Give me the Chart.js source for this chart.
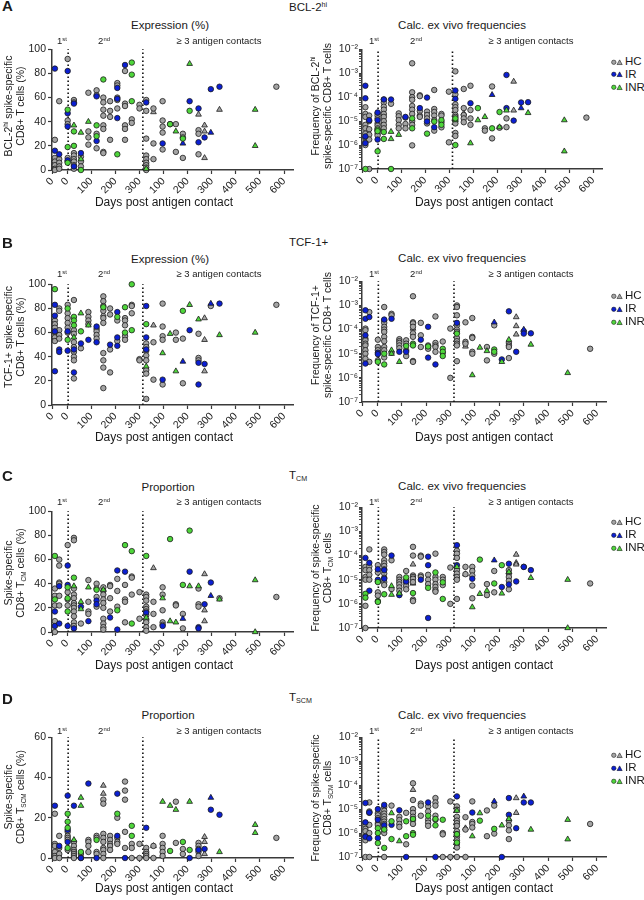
<!DOCTYPE html>
<html><head><meta charset="utf-8"><title>Spike-specific CD8+ T cells</title>
<script src="https://cdn.jsdelivr.net/npm/chart.js@4.4.1/dist/chart.umd.min.js"></script>
<style>
html,body{margin:0;padding:0;background:#fff}
body{width:644px;height:900px;position:relative;overflow:hidden;font-family:"Liberation Sans",Arial,Helvetica,sans-serif;color:#1a1a1a}
#charts{position:absolute;left:0;top:0;width:644px;height:900px}
#charts canvas{position:absolute;left:0;top:0}
.t{position:absolute;white-space:nowrap;line-height:1}
.c{transform:translate(-50%,-50%);text-align:center}
.l{transform:translateY(-50%)}
.r{transform:translate(-50%,-50%) rotate(-90deg);text-align:center;line-height:12px;font-size:10.5px}
.letter{font-weight:bold;font-size:15px}
.hdr{font-size:11.5px}
.sub{font-size:11.5px}
.seg{font-size:9.5px}
.xt{font-size:12px}
sup,sub{font-size:0.62em;line-height:0;position:relative;vertical-align:baseline}
sup{top:-0.55em}
sub{top:0.3em}
.leg{font-size:11.5px;display:flex;align-items:center;transform:translateY(-50%)}
.leg svg{margin-right:2px}
</style></head><body>
<div id="charts"></div>

<div class="t letter" style="left:2px;top:-2px">A</div>
<div class="t letter" style="left:2px;top:235px">B</div>
<div class="t letter" style="left:2px;top:468px">C</div>
<div class="t letter" style="left:2px;top:691px">D</div>

<div class="t hdr l" style="left:289px;top:8px">BCL-2<sup>hi</sup></div>
<div class="t hdr l" style="left:289px;top:243px">TCF-1+</div>
<div class="t hdr l" style="left:289px;top:476px">T<sub>CM</sub></div>
<div class="t hdr l" style="left:289px;top:698px">T<sub>SCM</sub></div>

<div class="t sub c" style="left:170px;top:25.5px">Expression (%)</div>
<div class="t sub c" style="left:462px;top:25.5px">Calc. ex vivo frequencies</div>
<div class="t sub c" style="left:170px;top:259.5px">Expression (%)</div>
<div class="t sub c" style="left:462px;top:259px">Calc. ex vivo frequencies</div>
<div class="t sub c" style="left:168px;top:487.5px">Proportion</div>
<div class="t sub c" style="left:462px;top:487px">Calc. ex vivo frequencies</div>
<div class="t sub c" style="left:168px;top:715.5px">Proportion</div>
<div class="t sub c" style="left:462px;top:716px">Calc. ex vivo frequencies</div>

<div class="t seg c" style="left:62px;top:41px">1<sup>st</sup></div>
<div class="t seg c" style="left:104px;top:41px">2<sup>nd</sup></div>
<div class="t seg c" style="left:219px;top:41px">≥ 3 antigen contacts</div>
<div class="t seg c" style="left:374px;top:41px">1<sup>st</sup></div>
<div class="t seg c" style="left:416px;top:41px">2<sup>nd</sup></div>
<div class="t seg c" style="left:531px;top:41px">≥ 3 antigen contacts</div>

<div class="t seg c" style="left:62px;top:274px">1<sup>st</sup></div>
<div class="t seg c" style="left:104px;top:274px">2<sup>nd</sup></div>
<div class="t seg c" style="left:219px;top:274px">≥ 3 antigen contacts</div>
<div class="t seg c" style="left:374px;top:274px">1<sup>st</sup></div>
<div class="t seg c" style="left:416px;top:274px">2<sup>nd</sup></div>
<div class="t seg c" style="left:531px;top:274px">≥ 3 antigen contacts</div>

<div class="t seg c" style="left:62px;top:502px">1<sup>st</sup></div>
<div class="t seg c" style="left:104px;top:502px">2<sup>nd</sup></div>
<div class="t seg c" style="left:219px;top:502px">≥ 3 antigen contacts</div>
<div class="t seg c" style="left:374px;top:502px">1<sup>st</sup></div>
<div class="t seg c" style="left:416px;top:502px">2<sup>nd</sup></div>
<div class="t seg c" style="left:531px;top:502px">≥ 3 antigen contacts</div>

<div class="t seg c" style="left:62px;top:731px">1<sup>st</sup></div>
<div class="t seg c" style="left:104px;top:731px">2<sup>nd</sup></div>
<div class="t seg c" style="left:219px;top:731px">≥ 3 antigen contacts</div>
<div class="t seg c" style="left:374px;top:731px">1<sup>st</sup></div>
<div class="t seg c" style="left:416px;top:731px">2<sup>nd</sup></div>
<div class="t seg c" style="left:531px;top:731px">≥ 3 antigen contacts</div>

<div class="t r" style="left:13.5px;top:106px">BCL-2<sup>hi</sup> spike-specific<br>CD8+ T cells (%)</div>
<div class="t r" style="left:321px;top:106px">Frequency of BCL-2<sup>hi</sup><br>spike-specific CD8+ T cells</div>
<div class="t r" style="left:13.5px;top:337px">TCF-1+ spike-specific<br>CD8+ T cells (%)</div>
<div class="t r" style="left:321px;top:335px">Frequency of TCF-1+<br>spike-specific CD8+ T cells</div>
<div class="t r" style="left:13.5px;top:573px">Spike-specific<br>CD8+ T<sub>CM</sub> cells (%)</div>
<div class="t r" style="left:321px;top:568px">Frequency of spike-specific<br>CD8+ T<sub>CM</sub> cells</div>
<div class="t r" style="left:13.5px;top:797px">Spike-specific<br>CD8+ T<sub>SCM</sub> cells (%)</div>
<div class="t r" style="left:321px;top:798px">Frequency of spike-specific<br>CD8+ T<sub>SCM</sub> cells</div>

<div class="t xt c" style="left:164px;top:202px">Days post antigen contact</div>
<div class="t xt c" style="left:484px;top:202px">Days post antigen contact</div>
<div class="t xt c" style="left:164px;top:437px">Days post antigen contact</div>
<div class="t xt c" style="left:484px;top:437px">Days post antigen contact</div>
<div class="t xt c" style="left:164px;top:665px">Days post antigen contact</div>
<div class="t xt c" style="left:484px;top:665px">Days post antigen contact</div>
<div class="t xt c" style="left:164px;top:888px">Days post antigen contact</div>
<div class="t xt c" style="left:484px;top:888px">Days post antigen contact</div>

<div id="legends"></div>

<script>
// ---------- axis definitions ----------
const SEG_START = {1: 0, 2: 63, 3: 363};          // start of each contact segment on the shared day axis
const X_MIN = 0, X_MAX = 1000;
const xTickSegDay = [[1,0],[2,0],[2,100],[2,200],[2,300],[3,100],[3,200],[3,300],[3,400],[3,500],[3,600]];
const xTickLabels = ['0','0','100','200','300','100','200','300','400','500','600'];
const contactDividers = [[2,4],[3,14]];
const pctTicks100 = [0,20,40,60,80,100];
const pctTicks60 = [0,20,40,60];
const logExponents = [-7,-6,-5,-4,-3,-2];
const groupNames = ['HC','IR','INR'];
const groupColors = ['#a4a4a4','#0b1fd3','#4ed63b'];

// ---------- data: [segment, day, [values]] ----------
// A: BCL-2hi expression (%)
const bcl2Expr_HC = [[1,12,[25,10,7,4,1,0]],[1,30,[57,9,6,3,1]],[2,2,[92,41,38,10,7]],[2,28,[58,56,14,12,9,7,4,1]],[2,57,[11,7,3]],[2,88,[64,32,27,21]],[2,122,[66,62,30,18]],[2,150,[60,56,50,45,37,34,15,14]],[2,178,[57,49,44,25]],[2,208,[72,70,60,58,51]],[2,240,[82,55,53,37,34,25]],[2,268,[42,39]],[2,300,[54,51]],[3,28,[58,49,26,12,9,6,4,2,0]],[3,58,[51,22,9]],[3,96,[57,41,36,31,17]],[3,127,[38]],[3,151,[38,15]],[3,180,[30,27,10]],[3,245,[33,30,13]],[3,568,[69]]];
const bcl2Expr_HC_tri = [[3,58,[48]],[3,245,[46]],[3,270,[37,32,10]],[3,332,[50]]];
const bcl2Expr_IR = [[1,12,[84,16]],[1,30,[13]],[2,2,[82,47,36,8]],[2,28,[55,3]],[2,57,[14]],[2,122,[61,24]],[2,208,[68,59,43]],[2,240,[87]],[3,28,[56]],[3,96,[22]],[3,208,[57]],[3,245,[51,23]],[3,270,[27]],[3,296,[67]],[3,332,[69]]];
const bcl2Expr_IR_tri = [[3,180,[22]],[3,296,[31]]];
const bcl2Expr_INR = [[2,2,[50,19,6]],[2,28,[32,20]],[2,57,[0]],[2,122,[37,28]],[2,150,[75]],[2,208,[13]],[2,268,[89,79,57]],[3,127,[38]],[3,180,[26]],[3,208,[49]]];
const bcl2Expr_INR_tri = [[2,28,[37]],[2,57,[31,9]],[2,88,[40]],[3,28,[1]],[3,151,[32]],[3,208,[88]],[3,480,[50,20]]];

// A: BCL-2hi calc. ex vivo frequencies
const bcl2Freq_HC = [[1,14,[3.8e-5,2e-5,1.5e-5,7e-6,5e-6,3e-6,2e-6,1.3e-6,1e-6]],[1,30,[1.7e-5,1e-5,4.6e-6,2.7e-6,1.7e-6,1e-7]],[2,2,[2.1e-5,1.7e-5,1.3e-5,8e-6,6.5e-6,5e-6,3e-6,2.5e-6]],[2,28,[8e-5,6e-5,4e-5,3e-5,2e-5,1.5e-5,1e-5,7e-6,5e-6]],[2,58,[5.3e-5]],[2,90,[2.1e-5,1.6e-5,1.1e-5,7e-6,5e-6]],[2,118,[1.4e-5,7.6e-6,5e-6]],[2,146,[2.6e-3,1.6e-4,1e-4,7.8e-5,4.3e-5,3e-5,2e-5,1e-5,7e-6,9.7e-7]],[2,178,[1.2e-4,1.1e-4,2.6e-5,1.7e-5,1.5e-5]],[2,208,[2.5e-5,1.8e-5,1.3e-5,8e-6]],[2,238,[2e-4,3.2e-5,2.4e-5,1.7e-5,1.1e-5,4e-6]],[2,268,[2e-5,1.7e-5,9e-6,5.5e-6]],[2,299,[1.7e-4,1.3e-6]],[3,26,[1.2e-3,1.3e-4,5e-5,3.8e-5,2.9e-5,1.8e-5,1.5e-5,1.1e-5,8e-6,3.2e-6,2.4e-6]],[3,61,[2.2e-4,3.5e-5,1.8e-5,1.3e-5,9e-6]],[3,89,[3e-4,2.9e-5,1.3e-5,7e-6]],[3,149,[5e-6,4e-6]],[3,179,[2.8e-4,1.9e-6]],[3,210,[5.3e-6]],[3,239,[1.3e-5,5.6e-6]],[3,572,[1.4e-5]]];
const bcl2Freq_HC_tri = [[3,61,[2.1e-5]],[3,269,[4.5e-4,2.8e-5]]];
const bcl2Freq_IR = [[1,14,[3e-4,9e-5,2.3e-6,1.2e-6]],[1,30,[1.1e-5]],[2,2,[2.3e-5,1.1e-5,4e-6,1.7e-6]],[2,28,[8e-5]],[2,58,[8e-5]],[2,118,[1.5e-5]],[2,178,[3.5e-5]],[2,208,[9.6e-5,9.6e-6]],[2,238,[5.6e-6]],[3,26,[1.9e-4,8.5e-5]],[3,89,[5.6e-5]],[3,239,[8.5e-4,3.5e-5]],[3,269,[1.05e-5]],[3,300,[6e-5]],[3,329,[6.2e-5]]];
const bcl2Freq_IR_tri = [[3,179,[1.25e-4]],[3,300,[3.5e-5]]];
const bcl2Freq_INR = [[1,14,[1e-7]],[2,2,[4.4e-6,3.8e-6,5.5e-7]],[2,28,[3.5e-6,1.8e-6]],[2,58,[1e-7]],[2,146,[1.3e-5,5e-6]],[2,208,[3e-6]],[2,238,[9.6e-6]],[2,268,[1.1e-5,7e-6]],[3,26,[1.3e-5,1e-6]],[3,120,[3.5e-5]],[3,179,[5e-6]],[3,210,[2.4e-5]]];
const bcl2Freq_INR_tri = [[2,58,[3.6e-6,1.8e-6]],[2,90,[2.7e-6]],[3,26,[1.1e-5]],[3,89,[1.2e-6]],[3,120,[1.1e-5]],[3,149,[1.5e-5]],[3,210,[5.6e-6]],[3,239,[2.8e-5]],[3,329,[2.2e-5]],[3,480,[1.1e-5,5.5e-7]]];

// B: TCF-1+ expression (%)
const tcf1Expr_HC = [[1,12,[70,67,64,60,56,53]],[1,30,[80,78,62,58,55]],[2,2,[83,76,72,68,64,60]],[2,28,[87,62,59,52,48,44,40,37,22]],[2,57,[47]],[2,88,[77,73,70,67]],[2,122,[63,61,58,55]],[2,150,[90,86,82,78,72,68,43,37,31,14]],[2,178,[80,75,46,27]],[2,208,[70,53]],[2,240,[72,70,66,57,54]],[2,268,[83,82,76]],[2,300,[38,37]],[3,28,[51,48,45,41,37,29,26,5]],[3,58,[52,21]],[3,96,[84,65,57,54,17]],[3,151,[60,54]],[3,180,[55,18]],[3,245,[59,39,37]],[3,296,[82]],[3,568,[83]]];
const tcf1Expr_HC_tri = [[2,150,[75]],[3,58,[66]],[3,270,[72,54,28]]];
const tcf1Expr_IR = [[1,12,[83,74,61,28]],[1,30,[46,44]],[2,2,[61,45]],[2,28,[46,27]],[2,57,[51]],[2,88,[54]],[2,122,[65,52]],[2,178,[50]],[2,208,[77,56,49]],[3,28,[82,56,46]],[3,96,[21]],[3,208,[62]],[3,245,[35,17]],[3,270,[34]],[3,332,[84]]];
const tcf1Expr_IR_tri = [[3,180,[36]],[3,296,[84]]];
const tcf1Expr_INR = [[1,12,[96]],[2,2,[80,54]],[2,28,[73,70,66]],[2,57,[61]],[2,150,[81]],[2,208,[73]],[2,240,[81,60]],[2,268,[100,62]],[3,28,[67]],[3,180,[78]]];
const tcf1Expr_INR_tri = [[2,28,[56]],[2,57,[76]],[2,88,[66]],[3,28,[32]],[3,96,[43]],[3,127,[59]],[3,151,[28]],[3,208,[83]],[3,245,[71]],[3,332,[58]],[3,480,[60]]];

// B: TCF-1+ calc. ex vivo frequencies
const tcf1Freq_HC = [[1,14,[1.1e-4,9.4e-5,4.2e-5,3.6e-5,2.6e-5,2.2e-5,1.4e-5,1e-5,6.2e-6]],[1,30,[5.3e-4,4.6e-6]],[2,2,[3.8e-5,1.9e-5,1.4e-5,5.3e-6]],[2,28,[8.6e-4,2.4e-4,1.9e-4,1.3e-4,1e-4,8e-5,5e-5,3.3e-5,1.9e-5,1.4e-5,7e-6]],[2,58,[4.5e-4,3.9e-4,1.1e-5]],[2,90,[4e-5,3.3e-5,2.8e-5,2.2e-5,1.7e-5]],[2,118,[3.6e-5,2.6e-5,1.4e-5,8e-6]],[2,146,[2.4e-3,2e-4,1.8e-4,1.3e-4,7e-5,5e-5,5e-6,4.6e-6]],[2,178,[1.9e-4,5.8e-5,1.9e-5]],[2,208,[2.2e-5,1.9e-5,1.6e-5]],[2,238,[3.5e-4,2.8e-5,2.2e-5,1.9e-5,1.2e-5]],[2,268,[3.2e-5,1.1e-5]],[2,299,[1.1e-4,1e-6]],[3,26,[1e-3,8.6e-4,3.9e-4,1.5e-4,1e-4,8e-5,4.5e-5,3.3e-5,2.6e-5,2.2e-5,4.9e-6]],[3,61,[2e-4,3.1e-5,2.6e-5]],[3,89,[3e-4,5e-5,4.5e-5,1.2e-5,1e-5]],[3,149,[1.9e-5,5.3e-6]],[3,179,[1.5e-4,1e-5]],[3,239,[2.8e-5,2.2e-5,1.9e-5,6.6e-6]],[3,300,[8.5e-5]],[3,572,[1.6e-5]]];
const tcf1Freq_HC_tri = [[2,146,[1.1e-4]],[3,61,[2e-5]],[3,269,[3.3e-4,1.4e-4,6.3e-5]]];
const tcf1Freq_IR = [[1,14,[6.3e-4,2.8e-4,5.8e-5,3.9e-6]],[1,30,[3.3e-4]],[2,2,[1.1e-5,9.6e-6]],[2,28,[2.6e-4]],[2,58,[2.8e-4]],[2,90,[1.2e-5]],[2,118,[1.2e-5]],[2,178,[3.8e-5]],[2,208,[1.3e-4,6.9e-6]],[2,238,[3.6e-6]],[3,26,[1.9e-4]],[3,210,[5.8e-6]],[3,239,[5.7e-4]],[3,269,[1.2e-5]],[3,300,[6.8e-5]],[3,329,[7e-5]]];
const tcf1Freq_IR_tri = [[3,179,[2e-4]],[3,300,[1e-4]]];
const tcf1Freq_INR = [[2,2,[4.6e-6]],[2,28,[1e-5,3.6e-6]],[2,118,[2.1e-5]],[2,146,[2.6e-5,2.2e-5]],[2,208,[2e-5]],[2,268,[1.6e-5,1.2e-5,8e-6]],[3,26,[6.8e-5]],[3,179,[1.5e-5,1.2e-5]]];
const tcf1Freq_INR_tri = [[2,58,[1.4e-5,1e-5]],[2,90,[4.6e-6]],[3,89,[1.3e-6]],[3,120,[1.8e-5]],[3,149,[1.3e-5]],[3,210,[4.6e-6]],[3,239,[3.8e-5]],[3,329,[2.4e-5]],[3,480,[1.6e-6]]];

// C: TCM proportion (%)
const tcmProp_HC = [[1,12,[36,30,22,9,0]],[1,30,[60,55,41,40,30,22]],[2,2,[72,33,27,22]],[2,28,[78,76,36,31,28,24,22,20,17,13,8,5]],[2,57,[7]],[2,88,[43,25,17,15]],[2,122,[40,36,29,21]],[2,150,[37,34,31,27,24,20,11,7,4,2]],[2,178,[39,38,28,17]],[2,208,[44,34,21]],[2,240,[39,27,25,8]],[2,268,[46,45,31]],[2,300,[33,11]],[3,28,[31,29,26,21,19,17,14,10,8,4,1]],[3,58,[25,15,4]],[3,96,[37,31,18,8,6]],[3,151,[23,22]],[3,180,[15,3]],[3,245,[36,23,21]],[3,332,[28]],[3,568,[29]]];
const tcmProp_HC_tri = [[3,58,[53]],[3,270,[48,18,9]]];
const tcmProp_IR = [[1,12,[17,5]],[1,30,[38,7]],[2,2,[55,39,5]],[2,28,[3]],[2,57,[21]],[2,88,[9]],[2,122,[26,23]],[2,178,[12]],[2,208,[51,2]],[2,240,[50]],[3,28,[16]],[3,96,[5]],[3,208,[50]],[3,245,[4,3]],[3,270,[23]],[3,296,[41]]];
const tcmProp_IR_tri = [[3,180,[11]],[3,296,[30]]];
const tcmProp_INR = [[1,12,[63,27]],[2,2,[37,28,17]],[2,28,[45]],[2,122,[35]],[2,208,[18]],[2,240,[72]],[2,268,[67,7]],[3,28,[63]],[3,127,[77]],[3,180,[39]],[3,208,[84]]];
const tcmProp_INR_tri = [[2,28,[38]],[2,57,[25,19]],[2,88,[37]],[2,150,[35]],[3,28,[12]],[3,96,[28]],[3,127,[9]],[3,151,[8]],[3,208,[38]],[3,245,[38]],[3,332,[27]],[3,480,[43,0]]];

// C: TCM calc. ex vivo frequencies
const tcmFreq_HC = [[1,14,[3.4e-5,2.5e-5,1.3e-5,1e-5,8.3e-7,1e-7]],[1,30,[1.8e-4,3.6e-5,2.5e-5,1.6e-5,1e-5]],[2,2,[4e-5,2e-5,8.5e-6,3e-6,2.2e-6]],[2,28,[1.8e-4,1.4e-4,1.1e-4,6.4e-5,4.8e-5,3.7e-5,2.7e-5,1.8e-5,1.2e-5,8e-6,6e-6]],[2,58,[6.4e-5,4.1e-6]],[2,90,[1.3e-5,1e-5,8e-6,6.4e-6,4.8e-6,3.5e-6]],[2,118,[2.3e-5,1e-5,7.5e-6,5.5e-6,4e-6]],[2,146,[2.3e-4,1e-4,1.5e-5,1.3e-5,1.1e-5,8e-6,1.5e-6,1.3e-6]],[2,178,[1e-4,9e-5,1.5e-5,1.3e-5]],[2,208,[1.6e-5,1e-5,6.6e-6]],[2,238,[1.2e-4,1.3e-5,1e-5,6.6e-6,5e-6,3.7e-6,3.2e-6]],[2,268,[1.3e-5,1e-5,6e-6]],[2,299,[3.2e-5,1e-6]],[3,26,[1.6e-4,1.2e-4,8e-5,2.5e-5,1.8e-5,1.3e-5,1e-5,1.6e-6]],[3,61,[3.4e-5,1.7e-5]],[3,89,[3.4e-5,2.3e-5,1.5e-5,5.7e-6,1.7e-6]],[3,149,[6.6e-6,2.3e-6]],[3,179,[2.3e-5,3e-6]],[3,239,[2.5e-5,1.8e-5,1.3e-5,9e-6,4e-6]],[3,300,[3.4e-5]],[3,572,[7e-6]]];
const tcmFreq_HC_tri = [[2,146,[4.3e-5,7e-6]],[3,61,[1.7e-5]],[3,269,[1.1e-4,5e-5,4.3e-5]]];
const tcmFreq_IR = [[1,14,[8e-5]],[1,30,[5e-5,3.5e-6]],[2,2,[2.7e-5,1e-5]],[2,28,[2.5e-5,1.1e-5]],[2,58,[1e-4]],[2,90,[2.3e-6]],[2,118,[8.5e-6]],[2,178,[1e-5]],[2,208,[9e-5,4e-5,2.6e-7]],[3,26,[2.7e-4,4e-5]],[3,89,[1.1e-5]],[3,210,[5e-6]],[3,239,[4.6e-5,6.4e-6]],[3,269,[8.5e-6]],[3,300,[3.4e-5]],[3,329,[2.5e-5]]];
const tcmFreq_IR_tri = [[3,179,[6.4e-5]]];
const tcmFreq_INR = [[1,14,[2.6e-6,1.8e-6]],[2,2,[8e-6,1.3e-6,1.2e-6]],[2,28,[2.5e-6]],[2,118,[1.25e-5]],[2,146,[2.8e-6]],[2,208,[4.6e-6]],[2,238,[2e-5]],[2,268,[7.8e-6,1.6e-6]],[3,120,[6.8e-5]],[3,179,[7e-6]],[3,210,[4e-5]]];
const tcmFreq_INR_tri = [[2,58,[5.5e-6,2.4e-6]],[2,90,[2.7e-6]],[3,26,[3.4e-5]],[3,89,[7.3e-7]],[3,120,[2.6e-6]],[3,149,[3.5e-6]],[3,210,[2.7e-6]],[3,239,[2.1e-5]],[3,329,[1.2e-5]],[3,480,[1e-5,1e-7]]];

// D: TSCM proportion (%)
const tscmProp_HC = [[1,12,[22,7,6,3,1,0]],[1,30,[11,5,2,0]],[2,2,[13,11,10,9,4]],[2,28,[8,6,4,3,2,1,0]],[2,57,[2,0]],[2,88,[9,8,6,3]],[2,122,[11,10,3,2]],[2,150,[29,27,12,10,8,5,4,2,0]],[2,178,[11,9,7,6,4]],[2,208,[20,10,8,7]],[2,240,[38,33.5,29,13,5]],[2,268,[7,5,0]],[2,300,[7,0]],[3,28,[5,3,2,1,0]],[3,58,[6,0]],[3,96,[11,7,5,3,1]],[3,151,[28,7.5]],[3,180,[4.5,2]],[3,245,[7.5,6,4.5,3,1]],[3,568,[10]]];
const tscmProp_HC_tri = [[2,150,[36,32]],[3,58,[6]],[3,270,[10.5,8,2]]];
const tscmProp_IR = [[1,12,[26]],[1,30,[6]],[2,2,[31,14,8]],[2,28,[26]],[2,57,[0]],[2,88,[37]],[2,122,[0]],[2,208,[32,11]],[2,240,[0]],[3,28,[15]],[3,208,[0]],[3,245,[4]],[3,270,[4.5]],[3,296,[24]],[3,332,[21.5]]];
const tscmProp_IR_tri = [[3,296,[30]]];
const tscmProp_INR = [[2,2,[22,18,15,5]],[2,57,[3]],[2,122,[9]],[2,208,[22]],[2,268,[16,11]],[3,127,[3.5]],[3,180,[8]],[3,208,[4]]];
const tscmProp_INR_tri = [[2,28,[9]],[2,57,[30,26]],[3,96,[28]],[3,127,[26]],[3,151,[24]],[3,208,[28]],[3,332,[3]],[3,480,[16.5,12.5]]];

// D: TSCM calc. ex vivo frequencies
const tscmFreq_HC = [[1,14,[2.6e-6,2e-6,1.5e-6,1.2e-6,7.5e-7,5e-7,1e-7]],[1,30,[1.9e-5,8e-6,7e-6,2.2e-6,1e-6,1e-7]],[2,2,[6.8e-6,5.5e-6,4.2e-6,2.6e-6,2.2e-6]],[2,28,[1.2e-5,8.5e-6,6.5e-6,5e-6,3.8e-6,3e-6,2.4e-6,1.7e-6,1.3e-6,1e-6,1e-7]],[2,58,[1.4e-5]],[2,90,[4.8e-6,3.5e-6,2.4e-6,1.8e-6]],[2,118,[7e-6,3.4e-7]],[2,146,[1.2e-4,2.4e-5,1e-5,7e-6,4.8e-6,3.5e-6,2.4e-6]],[2,178,[1.7e-5,1.4e-5,5.3e-6]],[2,208,[1.3e-5,8e-6,3.6e-6,2.7e-6,2e-6]],[2,238,[2.9e-5,1.9e-5,1.4e-5,5.3e-6,3.6e-6]],[2,268,[1e-6,8.8e-7,1e-7]],[2,299,[2.1e-5,1e-7]],[3,26,[1.3e-5,9.4e-6,4.8e-6,3.3e-6,2.6e-6,2e-6,1.2e-6,9e-7,7e-7,5e-7,3.5e-7,2.5e-7,1e-7]],[3,61,[4.6e-6,1.4e-6,1e-7]],[3,89,[2.1e-5,2.9e-6,2.4e-6,1.7e-6]],[3,149,[8.8e-6,7.4e-7]],[3,179,[1.4e-5,9.5e-7]],[3,239,[3.3e-6,2.1e-6,1.3e-6,5.6e-7]],[3,572,[2.4e-6]]];
const tscmFreq_HC_tri = [[2,146,[6.4e-5]],[3,61,[1.6e-6]],[3,269,[2.9e-5,7e-6]]];
const tscmFreq_IR = [[1,14,[1.8e-5,2.8e-6,7e-7]],[1,30,[7.2e-6,6e-7]],[2,2,[1e-5,3.6e-6,6.2e-7]],[2,28,[1.5e-5,2.1e-6]],[2,58,[2.2e-6]],[2,90,[9e-6]],[2,118,[1e-7]],[2,208,[1.9e-5]],[2,238,[1e-7]],[3,26,[3.4e-5]],[3,89,[7.2e-6]],[3,210,[1e-7]],[3,239,[2.9e-5,5.8e-6]],[3,269,[1.6e-6]],[3,300,[1.9e-5]],[3,329,[1.9e-5]]];
const tscmFreq_IR_tri = [[3,179,[2.1e-5]],[3,300,[3.4e-5]]];
const tscmFreq_INR = [[2,2,[1.6e-6,1e-6,3.8e-7]],[2,28,[2.4e-7,1.4e-6]],[2,58,[3.1e-6,5.6e-7]],[2,118,[3.1e-6,7.4e-7]],[2,146,[3.9e-6,1e-6,8.5e-7]],[2,208,[5.3e-6]],[2,238,[3.9e-6,2.1e-6]],[2,268,[3.6e-6]],[3,26,[9e-7,4e-7]],[3,120,[3.3e-6]],[3,179,[1.5e-6]]];
const tscmFreq_INR_tri = [[2,58,[6.8e-6]],[2,90,[4.6e-7]],[3,26,[8.6e-6]],[3,89,[7.4e-7]],[3,120,[6.8e-6]],[3,210,[2.1e-6]],[3,239,[3.9e-6]],[3,329,[1.4e-6]],[3,480,[3.6e-6,5.5e-7]]];

// ---------- layout of the eight plots ----------
const FONT = '"Liberation Sans", Arial, Helvetica, sans-serif';
const panels = [
  {L:52, T:49, W:241, H:121, log:false, yTicks:pctTicks100, sets:[bcl2Expr_HC,bcl2Expr_HC_tri,bcl2Expr_IR,bcl2Expr_IR_tri,bcl2Expr_INR,bcl2Expr_INR_tri]},
  {L:362,T:49, W:240, H:120, log:true, sets:[bcl2Freq_HC,bcl2Freq_HC_tri,bcl2Freq_IR,bcl2Freq_IR_tri,bcl2Freq_INR,bcl2Freq_INR_tri], legendY:[62,74.5,87.5]},
  {L:52, T:284,W:241, H:121, log:false, yTicks:pctTicks100, sets:[tcf1Expr_HC,tcf1Expr_HC_tri,tcf1Expr_IR,tcf1Expr_IR_tri,tcf1Expr_INR,tcf1Expr_INR_tri]},
  {L:362,T:281,W:244, H:121, log:true, sets:[tcf1Freq_HC,tcf1Freq_HC_tri,tcf1Freq_IR,tcf1Freq_IR_tri,tcf1Freq_INR,tcf1Freq_INR_tri], legendY:[296,309,322]},
  {L:52, T:511,W:241, H:121, log:false, yTicks:pctTicks100, sets:[tcmProp_HC,tcmProp_HC_tri,tcmProp_IR,tcmProp_IR_tri,tcmProp_INR,tcmProp_INR_tri]},
  {L:362,T:507,W:244, H:121, log:true, sets:[tcmFreq_HC,tcmFreq_HC_tri,tcmFreq_IR,tcmFreq_IR_tri,tcmFreq_INR,tcmFreq_INR_tri], legendY:[522,535,548]},
  {L:52, T:737,W:241, H:121, log:false, yTicks:pctTicks60, sets:[tscmProp_HC,tscmProp_HC_tri,tscmProp_IR,tscmProp_IR_tri,tscmProp_INR,tscmProp_INR_tri]},
  {L:362,T:737,W:244, H:120, log:true, sets:[tscmFreq_HC,tscmFreq_HC_tri,tscmFreq_IR,tscmFreq_IR_tri,tscmFreq_INR,tscmFreq_INR_tri], legendY:[755,768,781]}
];

const SUP = {'-':'\u207B','0':'\u2070','1':'\u00B9','2':'\u00B2','3':'\u00B3','4':'\u2074','5':'\u2075','6':'\u2076','7':'\u2077','8':'\u2078','9':'\u2079'};
function powLabel(v){ const e = Math.round(Math.log10(v)); return '10' + String(e).split('').map(ch => SUP[ch]).join(''); }
function toXY(cols){ const out=[]; cols.forEach(c => { const x = SEG_START[c[0]] + c[1]; c[2].forEach(v => out.push({x:x, y:v})); }); return out; }

const AXIS_COL = '#3a3a3a';
const holder = document.getElementById('charts');

function place(chart, cv, p){
  let a = chart.chartArea;
  const w = chart.width + (p.W - (a.right - a.left));
  const h = chart.height + (p.H - (a.bottom - a.top));
  chart.resize(Math.round(w), Math.round(h));
  a = chart.chartArea;
  cv.style.left = (p.L - a.left) + 'px';
  cv.style.top = (p.T - a.top) + 'px';
}

panels.forEach(p => {
  const cv = document.createElement('canvas');
  cv.width = p.W + 56; cv.height = p.H + 46;
  cv.style.width = cv.width + 'px'; cv.style.height = cv.height + 'px';
  holder.appendChild(cv);
  const yMin = p.log ? Math.pow(10, logExponents[0]) : 0;
  const yMax = p.log ? Math.pow(10, logExponents[logExponents.length-1]) : p.yTicks[p.yTicks.length-1];
  const datasets = [];
  p.sets.forEach((arr, i) => {
    const g = Math.floor(i/2), tri = (i % 2) === 1;
    datasets.push({
      type:'scatter', label: groupNames[g] + (tri ? ' (triangle)' : ''), data: toXY(arr),
      backgroundColor: groupColors[g], borderColor:'#1c1c1c', pointBorderWidth:0.8,
      pointRadius: tri ? 3.3 : 2.75, pointStyle: tri ? 'triangle' : 'circle',
      clip:false, order: 3 - g
    });
  });
  contactDividers.forEach(d => {
    const x = SEG_START[d[0]] + d[1];
    datasets.push({type:'line', data:[{x:x,y:yMin},{x:x,y:yMax}], borderColor:'#111', borderWidth:1.6,
      borderDash:[1.4,2.6], pointRadius:0, showLine:true, fill:false, clip:false, order:10});
  });
  const yScale = p.log ? {
      type:'logarithmic', min:yMin, max:yMax,
      afterBuildTicks: s => { const t=[]; logExponents.forEach((e,k) => { const n = (k === logExponents.length-1) ? 1 : 9; for (let m=1;m<=n;m++) t.push({value:m*Math.pow(10,e), major:m===1}); }); s.ticks = t; },
      afterFit: s => { s.width = 42; },
      ticks:{autoSkip:false, padding:1, color:'#222', font:{size:10.5, family:FONT}, callback:(v,i,ticks) => ticks[i].major ? powLabel(v) : ''},
      grid:{display:true, drawOnChartArea:false, drawTicks:true, tickLength:3, color:AXIS_COL, tickColor:AXIS_COL, tickWidth: c => (c.tick && c.tick.major) ? 1.2 : 0.9},
      border:{display:true, color:AXIS_COL, width:1.5}
    } : {
      type:'linear', min:yMin, max:yMax,
      afterBuildTicks: s => { s.ticks = p.yTicks.map(v => ({value:v})); },
      afterFit: s => { s.width = 42; },
      ticks:{autoSkip:false, padding:2, color:'#222', font:{size:10.5, family:FONT}},
      grid:{display:true, drawOnChartArea:false, drawTicks:true, tickLength:4, color:AXIS_COL, tickColor:AXIS_COL, tickWidth:1.2},
      border:{display:true, color:AXIS_COL, width:1.5}
    };
  const chart = new Chart(cv, {
    type:'scatter',
    data:{datasets:datasets},
    options:{
      responsive:false, maintainAspectRatio:false, animation:false, events:[],
      layout:{padding:{top:7, right:8, left:0, bottom:0}},
      plugins:{legend:{display:false}, tooltip:{enabled:false}},
      scales:{
        x:{type:'linear', min:X_MIN, max:X_MAX,
           afterBuildTicks: s => { s.ticks = xTickSegDay.map(t => ({value: SEG_START[t[0]] + t[1]})); },
           afterFit: s => { s.height = 34; },
           ticks:{autoSkip:false, minRotation:45, maxRotation:45, padding:1, color:'#222', font:{size:10.5, family:FONT}, callback:(v,i) => xTickLabels[i]},
           grid:{display:true, drawOnChartArea:false, drawTicks:true, tickLength:4, color:AXIS_COL, tickColor:AXIS_COL, tickWidth:1.2},
           border:{display:true, color:AXIS_COL, width:1.5}},
        y: yScale
      }
    }
  });
  place(chart, cv, p);

  if (p.legendY) {
    const lg = document.getElementById('legends');
    groupNames.forEach((name, g) => {
      const d = document.createElement('div');
      d.className = 't leg';
      d.style.left = '611px'; d.style.top = p.legendY[g] + 'px';
      d.innerHTML = '<svg width="12" height="6" viewBox="0 0 12 6"><circle cx="2.8" cy="3" r="2.2" fill="'+groupColors[g]+'" stroke="#222" stroke-width="0.6"/><polygon points="8.6,0.6 11.2,5.4 6,5.4" fill="'+groupColors[g]+'" stroke="#222" stroke-width="0.6"/></svg>' + name;
      lg.appendChild(d);
    });
  }
});
</script>
</body></html>
